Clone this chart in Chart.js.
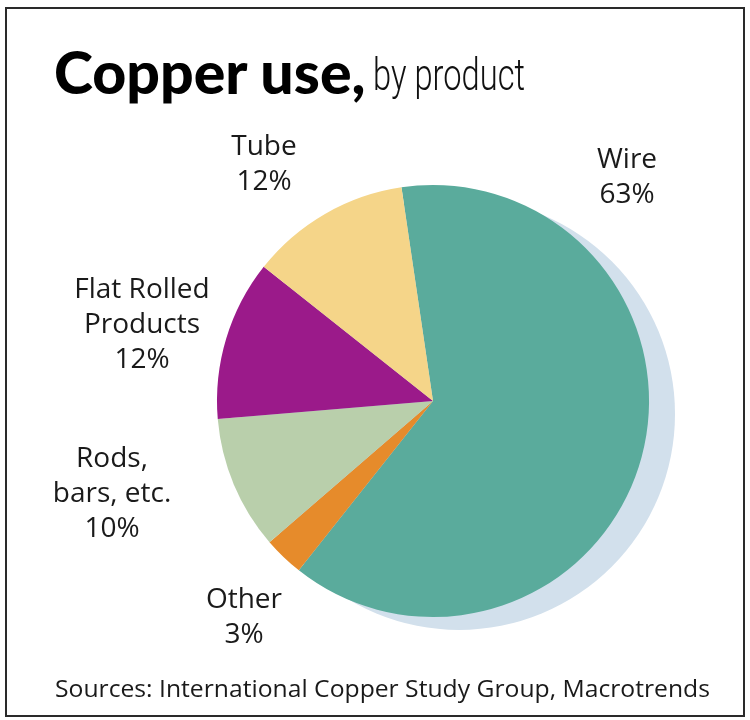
<!DOCTYPE html>
<html>
<head>
<meta charset="utf-8">
<script src="https://cdn.jsdelivr.net/npm/chart.js@4"></script>
<style>
  html,body{margin:0;padding:0;background:#fff;}
  #wrap{position:relative;width:750px;height:720px;overflow:hidden;}
  #frame{position:absolute;left:5px;top:7px;width:736px;height:706px;border:2.5px solid #2a2a2a;}
  canvas{position:absolute;left:0;top:0;}
  .t{position:absolute;color:#1a1a1a;font-family:"Open Sans",sans-serif;font-size:28px;line-height:35px;text-align:center;white-space:nowrap;}
  #title1{position:absolute;left:54px;top:37px;white-space:nowrap;color:#000;font-family:Lato,sans-serif;font-weight:900;font-size:59px;line-height:70px;}
  #title2{position:absolute;left:373px;top:45px;white-space:nowrap;color:#111;font-family:Roboto,sans-serif;font-weight:300;font-size:44px;line-height:60px;transform-origin:0 0;}
  #src{position:absolute;left:55px;top:672px;font-family:"Open Sans",sans-serif;font-size:24.5px;line-height:32px;color:#1a1a1a;white-space:nowrap;transform-origin:0 0;}
</style>
</head>
<body>
<div id="wrap">
  <div id="frame"></div>
  <canvas id="c" width="750" height="720"></canvas>
  <div id="title1">Copper use,</div>
  <div id="title2">by product</div>
  <div id="labels"></div>
  <div id="src">Sources: International Copper Study Group, Macrotrends</div>
</div>
<script>
// ---- data ----
const categories = ["Wire", "Other", "Rods, bars, etc.", "Flat Rolled Products", "Tube"];
const shares = [63, 3, 10, 12, 12];
const labelLines = [["Wire","63%"],["Other","3%"],["Rods,","bars, etc.","10%"],["Flat Rolled","Products","12%"],["Tube","12%"]];
const colors = ["#5aab9c", "#e68b2b", "#b9cfab", "#9b1a8a", "#f5d589"];

// ---- label layout (center x, top y) ----
const labelPos = [[627,140],[244,580],[112,439],[142,270],[264,127]];
const labelsDiv = document.getElementById('labels');
labelLines.forEach((lines, i) => {
  const d = document.createElement('div');
  d.className = 't';
  d.innerHTML = lines.map((l, j) => j === lines.length - 1 ? l : l + '<br>').join('');
  d.style.top = labelPos[i][1] + 'px';
  d.style.left = (labelPos[i][0] - 100) + 'px';
  d.style.width = '200px';
  labelsDiv.appendChild(d);
});

// fit widths of condensed subtitle and source line to the reference
function fitWidth(el, w) {
  const r = el.getBoundingClientRect().width;
  if (r > 0) el.style.transform = 'scaleX(' + (w / r) + ')';
}
fitWidth(document.getElementById('title2'), 152);
fitWidth(document.getElementById('src'), 655);

const shadowPlugin = {
  id: 'shadow',
  beforeDatasetsDraw(chart) {
    const arc = chart.getDatasetMeta(0).data[0];
    if (!arc) return;
    const ctx = chart.ctx;
    ctx.save();
    ctx.fillStyle = '#d2e0ec';
    ctx.beginPath();
    ctx.arc(arc.x + 26, arc.y + 13, arc.outerRadius, 0, Math.PI * 2);
    ctx.fill();
    ctx.restore();
  }
};

new Chart(document.getElementById('c'), {
  type: 'pie',
  data: {
    labels: categories,
    datasets: [{ data: shares, backgroundColor: colors, borderWidth: 0 }]
  },
  options: {
    responsive: false,
    animation: false,
    rotation: -8.4,
    layout: { padding: { left: 217, top: 185, right: 101, bottom: 103 } },
    plugins: { legend: { display: false }, tooltip: { enabled: false }, title: { display: false } }
  },
  plugins: [shadowPlugin]
});
</script>
</body>
</html>
